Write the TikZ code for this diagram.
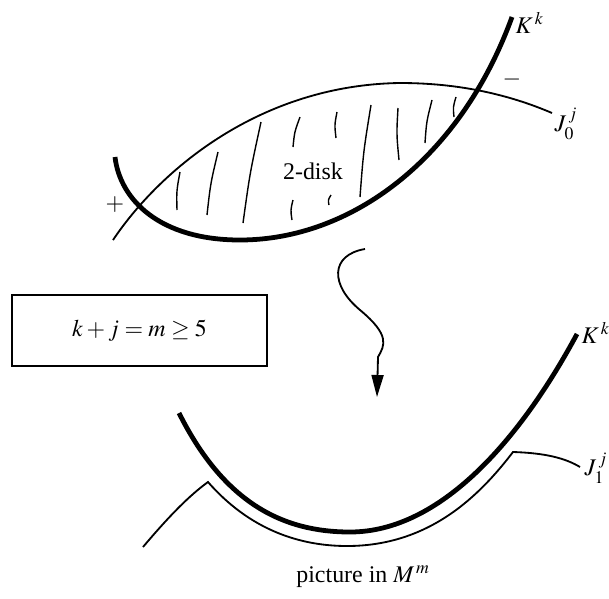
\documentclass[tikz,border=0pt]{standalone}
\usepackage{mathptmx}
\usepackage{fontspec}
\setmainfont{Liberation Serif}
\usetikzlibrary{arrows.meta,calc}

\tikzset{
  lbl/.style={font=\fontsize{17}{20}\selectfont, inner sep=1pt},
  thin curve/.style={line width=1.3pt},
  thick curve/.style={line width=3.4pt},
}

\begin{document}
\begin{tikzpicture}[x=0.025cm, y=-0.025cm]
  \useasboundingbox (0,0) rectangle (609,598);

  % Upper picture: the 2-disk between K and J_0
  \draw[thick curve] (115,157) .. controls (120,200) and (160,240) .. (240,240)
    .. controls (350,240) and (460,160) .. (512,17);
  \draw[thin curve] (113,240) .. controls (160,170) and (260,85) .. (400,83)
    .. controls (460,83) and (510,95) .. (552,113);

  % Hatching of the disk
  \foreach \xa/\ya/\xb/\yb in {180/172/177/210, 218/152/207/215, 261/122/243/223,
      300/117/293/147, 293/200/292/220, 337/112/336/138, 331/195/329/205,
      371/105/360/197, 398/108/399/160, 432/100/425/143, 456/97/454/117}
    \draw[line width=1pt] (\xa,\ya) .. controls ($(\xa,\ya)!0.5!(\xb,\yb)+(-2,0)$) .. (\xb,\yb);

  \node[lbl, fill=white, inner sep=2pt] (disk) at (313,171) {2-disk};
  \node[lbl, anchor=west] (Kup) at (514,23) {$K^{\,k}$};
  \node[lbl, anchor=west] (Jzero) at (553,124) {$J^{\,j}_0$};
  \node[lbl] (minus) at (512,80) {$-$};
  \node[lbl] (plus) at (115,205) {$+$};

  % Dimension box
  \node[lbl, draw, line width=1.2pt, minimum width=6.375cm, minimum height=1.775cm]
    (dims) at (139.5,330.5) {$k + j = m \geq 5$};

  % Wiggly arrow
  \coordinate (arrS) at (365,249);
  \coordinate (arrE) at (377,397);
  \draw[line width=1.3pt, -{Triangle[length=0.55cm, width=0.3cm]}] (arrS)
    .. controls (330,255) and (330,285) .. (360,310)
    .. controls (390,335) and (385,345) .. (378,357) -- (arrE);

  % Lower picture: J_1 pushed off K
  \draw[thick curve] (179,413) .. controls (225,505) and (285,532) .. (350,532)
    .. controls (440,532) and (520,440) .. (577,334);
  \draw[thin curve] (143,547) .. controls (170,515) and (190,495) .. (208,482)
    .. controls (250,530) and (300,546) .. (347,546)
    .. controls (430,546) and (480,495) .. (513,452)
    .. controls (545,453) and (565,458) .. (580,467);

  \node[lbl, anchor=west] (Klow) at (580,333) {$K^{\,k}$};
  \node[lbl, anchor=west] (Jone) at (583,468) {$J^{\,j}_1$};
  \node[lbl] (caption) at (363,577) {picture in $M^{\,m}$};
\end{tikzpicture}
\end{document}
